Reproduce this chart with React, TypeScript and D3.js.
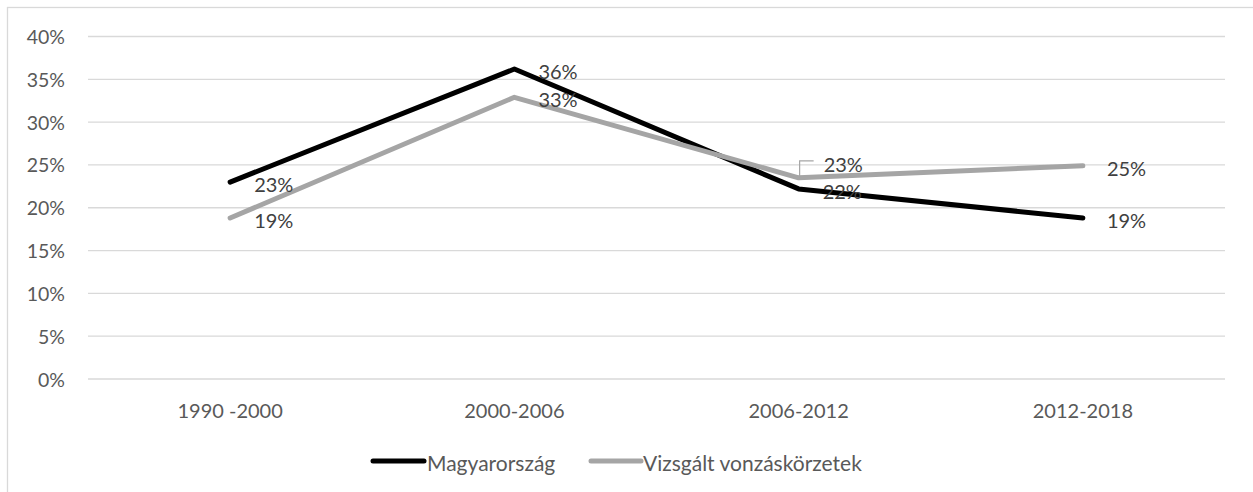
import React from "react";
import * as d3 from "d3";

const categories = ["1990 -2000", "2000-2006", "2006-2012", "2012-2018"];
const magyarorszag = [0.23, 0.362, 0.222, 0.188];
const vizsgalt = [0.188, 0.329, 0.235, 0.249];
const magyarLabels = ["23%", "36%", "22%", "19%"];
const vizsgaltLabels = ["19%", "33%", "23%", "25%"];
const yTicks = [0, 0.05, 0.1, 0.15, 0.2, 0.25, 0.3, 0.35, 0.4];
const seriesNames = ["Magyarország", "Vizsgált vonzáskörzetek"];

const W = 1253;
const H = 492;
const FONT = "Lato, 'Open Sans', sans-serif";
const TEXT = "#595959";

export default function App() {
  const x = d3.scaleBand<string>().domain(categories).range([88, 1225]);
  const y = d3.scaleLinear().domain([0, 0.4]).range([379, 36.5]);
  const cx = (c: string) => (x(c) as number) + x.bandwidth() / 2;

  const line = d3
    .line<number>()
    .x((_, i) => cx(categories[i]))
    .y((v) => y(v));

  const series = [
    { name: seriesNames[0], values: magyarorszag, labels: magyarLabels, color: "#000000" },
    { name: seriesNames[1], values: vizsgalt, labels: vizsgaltLabels, color: "#a5a5a5" },
  ];

  const labelOffset = (si: number, i: number) => {
    if (si === 1 && i === 2) return { dx: 25, dy: -14, leader: true };
    return { dx: 24, dy: 2, leader: false };
  };

  return (
    <svg
      width={W}
      height={H}
      style={{ position: "absolute", left: 0, top: 0, background: "#fff" }}
      fontFamily={FONT}
    >
      <rect x={0} y={0} width={W} height={H} fill="#fff" />
      <rect x={7.5} y={7.5} width={1270} height={520} fill="none" stroke="#d9d9d9" strokeWidth={1.3} />
      {yTicks.map((t) => (
        <g key={t}>
          <line x1={88} x2={1225} y1={y(t)} y2={y(t)} stroke="#d9d9d9" strokeWidth={1.3} />
          <text x={65} y={y(t)} textAnchor="end" dominantBaseline="central" fontSize={19.5} fill={TEXT}>
            {`${Math.round(t * 100)}%`}
          </text>
        </g>
      ))}
      {categories.map((c) => (
        <text key={c} x={cx(c)} y={410} textAnchor="middle" dominantBaseline="central" fontSize={20} fill={TEXT}>
          {c}
        </text>
      ))}
      {series.map((s) => (
        <path
          key={s.name}
          d={line(s.values) || ""}
          fill="none"
          stroke={s.color}
          strokeWidth={5}
          strokeLinecap="round"
          strokeLinejoin="round"
        />
      ))}
      {series.map((s, si) =>
        s.values.map((v, i) => {
          const px = cx(categories[i]);
          const py = y(v);
          const o = labelOffset(si, i);
          const ly = py + o.dy;
          return (
            <g key={`${si}-${i}`}>
              {o.leader && (
                <polyline
                  points={`${px + 1},${py - 1} ${px + 1},${ly - 3} ${px + 15},${ly - 3}`}
                  fill="none"
                  stroke="#a5a5a5"
                  strokeWidth={1.2}
                />
              )}
              <text x={px + o.dx} y={ly} dominantBaseline="central" fontSize={20} fill="#404040">
                {s.labels[i]}
              </text>
            </g>
          );
        })
      )}
      <g>
        <line x1={373} x2={424} y1={461} y2={461} stroke="#000" strokeWidth={5} strokeLinecap="round" />
        <text x={427} y={462} dominantBaseline="central" fontSize={21} fill={TEXT}>
          {seriesNames[0]}
        </text>
        <line x1={591} x2={641} y1={461} y2={461} stroke="#a5a5a5" strokeWidth={5} strokeLinecap="round" />
        <text x={643} y={462} dominantBaseline="central" fontSize={21} fill={TEXT}>
          {seriesNames[1]}
        </text>
      </g>
    </svg>
  );
}
